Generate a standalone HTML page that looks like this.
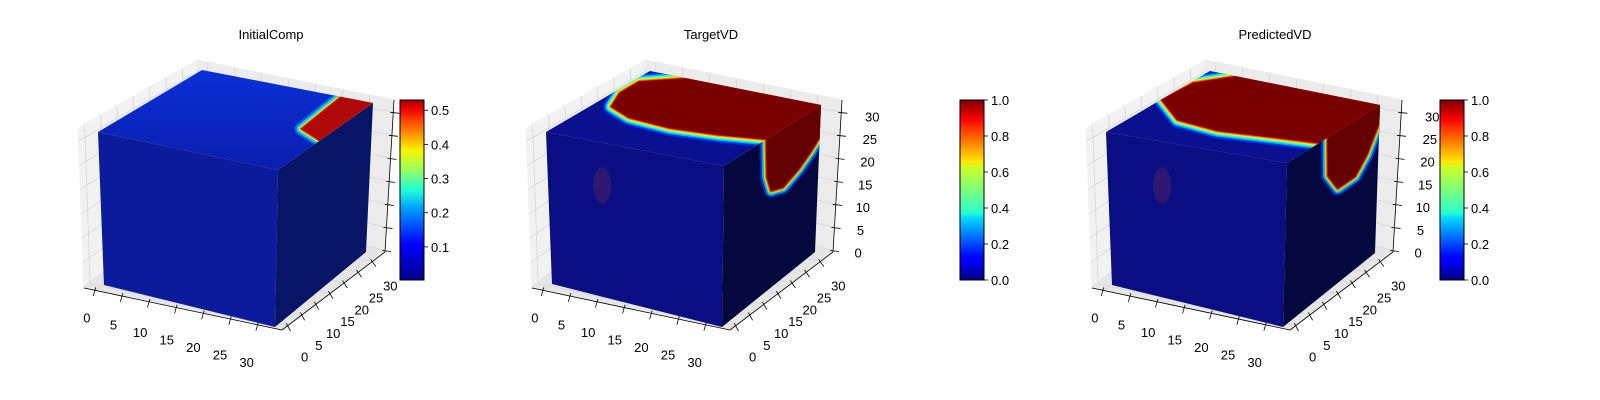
<!DOCTYPE html>
<html><head><meta charset="utf-8"><style>
html,body{margin:0;padding:0;background:#fff;}
svg{display:block;font-family:"Liberation Sans","DejaVu Sans",sans-serif;}
</style></head><body>
<svg id="fig" width="1600" height="400" viewBox="0 0 1600 400" xmlns="http://www.w3.org/2000/svg">
<defs>
<linearGradient id="jet" x1="0" y1="1" x2="0" y2="0">
<stop offset="0" stop-color="#00007f"/><stop offset="0.11" stop-color="#0000ff"/><stop offset="0.125" stop-color="#0000ff"/>
<stop offset="0.34" stop-color="#00d4ff"/><stop offset="0.375" stop-color="#29ffce"/><stop offset="0.5" stop-color="#7dff7a"/>
<stop offset="0.625" stop-color="#ceff29"/><stop offset="0.66" stop-color="#ffe500"/><stop offset="0.875" stop-color="#ff1400"/>
<stop offset="0.89" stop-color="#ff0000"/><stop offset="1" stop-color="#7f0000"/></linearGradient>
<linearGradient id="jetlow" x1="0" y1="1" x2="0" y2="0">
<stop offset="0" stop-color="#00008a"/><stop offset="0.2" stop-color="#0000ff"/><stop offset="0.4" stop-color="#00a0ff"/>
<stop offset="0.5" stop-color="#20ffd8"/><stop offset="0.62" stop-color="#a0ff58"/><stop offset="0.72" stop-color="#f8f500"/>
<stop offset="0.85" stop-color="#ff6a00"/><stop offset="0.95" stop-color="#f00000"/><stop offset="1" stop-color="#a00000"/></linearGradient>
<linearGradient id="top1" x1="0" y1="0" x2="0" y2="1"><stop offset="0" stop-color="#0b2fd6"/><stop offset="1" stop-color="#0a1eae"/></linearGradient>
</defs>
<g id="root"></g>
</svg>
<script>
// ---- data ----
const titles = ["InitialComp", "TargetVD", "PredictedVD"];
const axisTicks = [0, 5, 10, 15, 20, 25, 30];
const cbTicks1 = [0.1, 0.2, 0.3, 0.4, 0.5];
const cbTicks2 = [0.0, 0.2, 0.4, 0.6, 0.8, 1.0];
const cbRange1 = [0.003, 0.53];
const cbRange2 = [0.0, 1.0];
// hot regions (voxel coords) : top face (x, depth), right face (depth, z)
const topHot1 = [[26,32],[27,17],[32,14],[32,32]];
const topHot2 = [[7,32],[1,27],[1,21],[3,15],[8,12],[16,11],[24,12],[32,14],[32,32]];
const topHot3 = [[5,32],[0.5,26],[0,17],[7,10],[15,8.5],[25,10],[32,11],[32,32]];
const sideHot2 = [[14,32],[14.5,24],[16,20.5],[20,19.5],[25,21],[29,23],[32,25],[32,32]];
const sideHot3 = [[14,32],[14.5,24],[18,20],[24,20],[28,23],[31,27],[32,28],[32,32]];

const NS = "http://www.w3.org/2000/svg";
const root = document.getElementById('root');
function mk(tag, attrs, parent){ const e=document.createElementNS(NS,tag); for(const k in attrs) e.setAttribute(k,attrs[k]); (parent||root).appendChild(e); return e; }
function pts(a){ return a.map(p=>p[0].toFixed(1)+","+p[1].toFixed(1)).join(" "); }
function lerp(a,b,t){ return [a[0]+(b[0]-a[0])*t, a[1]+(b[1]-a[1])*t]; }
function bil(P00,P10,P11,P01,a,b){ return lerp(lerp(P00,P10,a), lerp(P01,P11,a), b); }

const cubes = [
 {FTL:[98,132],FTR:[278,170],BTR:[373,103],BTL:[202,70],FBL:[104,285],FBR:[275,327],RBR:[366,252]},
 {FTL:[546,132],FTR:[724,166],BTR:[821,105],BTL:[650,71],FBL:[552,284],FBR:[722,327],RBR:[815,252]},
 {FTL:[1106,132],FTR:[1287,163],BTR:[1380,105],BTL:[1210,71],FBL:[1112,285],FBR:[1283,327],RBR:[1375,253]}
];
const shifts = [-448, 0, 560];
const titleX = [271, 711, 1275];
const cbX = [400, 960, 1440];

function xf(v){ return (v+2)/36.5; }
function zf(v){ return v/33+0.01; }

function panel(i){
  const g = mk('g',{});
  
  
  const s = shifts[i];
  const P = (x,y)=>[x+s,y];
  const A=P(532,288),B=P(526,128),C=P(645,60),D=P(645,205),E=P(842,100),F=P(833,252),G=P(730,330);
  const lp = mk('polygon',{points:pts([A,B,C,D]),fill:'#f2f2f2',stroke:'#f2f2f2'},g);
   
  const bp = mk('polygon',{points:pts([D,C,E,F]),fill:'#ececec',stroke:'#ececec'},g);
   
  const fp = mk('polygon',{points:pts([A,D,F,G]),fill:'#e6e6e6',stroke:'#e6e6e6'},g);
   
  axisTicks.forEach(v=>{
    const t=xf(v), tz=zf(v);
    const z1=lerp(A,B,tz), z2=lerp(D,C,tz), z3=lerp(F,E,tz);
    mk('polyline',{points:pts([z1,z2,z3]),fill:'none',stroke:'#d6d6d6','stroke-width':0.8},g);
    const x1=lerp(A,G,t), x2=lerp(D,F,t), x3=lerp(C,E,t);
    mk('polyline',{points:pts([x1,x2,x3]),fill:'none',stroke:'#d6d6d6','stroke-width':0.8},g);
    const y1=lerp(G,F,t), y2=lerp(A,D,t), y3=lerp(B,C,t);
    mk('polyline',{points:pts([y1,y2,y3]),fill:'none',stroke:'#d6d6d6','stroke-width':0.8},g);
  });
  mk('line',{x1:A[0],y1:A[1],x2:G[0],y2:G[1],stroke:'#000','stroke-width':0.8},g);
  mk('line',{x1:G[0],y1:G[1],x2:F[0],y2:F[1],stroke:'#000','stroke-width':0.8},g);
  mk('line',{x1:F[0],y1:F[1],x2:E[0],y2:E[1],stroke:'#000','stroke-width':0.8},g);
  axisTicks.forEach((v,k)=>{
    const f=k/(axisTicks.length-1);
    let p=lerp(A,G,xf(v)); let off=lerp([-8,28],[-11,38],f);
    let L=Math.hypot(off[0],off[1]); let d=[off[0]/L,off[1]/L];
    mk('line',{x1:p[0]-d[0]*3,y1:p[1]-d[1]*3,x2:p[0]+d[0]*6,y2:p[1]+d[1]*6,stroke:'#000','stroke-width':0.8},g);
    let tx=mk('text',{x:p[0]+off[0],y:p[1]+off[1]+4,'font-size':13,'text-anchor':'middle',fill:'#000'},g);
    tx.textContent=v;  
    p=lerp(G,F,xf(v)); off=lerp([17,32],[18,25],f);
    L=Math.hypot(off[0],off[1]); d=[off[0]/L,off[1]/L];
    mk('line',{x1:p[0]-d[0]*3,y1:p[1]-d[1]*3,x2:p[0]+d[0]*6,y2:p[1]+d[1]*6,stroke:'#000','stroke-width':0.8},g);
    tx=mk('text',{x:p[0]+off[0],y:p[1]+off[1]+4,'font-size':13,'text-anchor':'middle',fill:'#000'},g);
    tx.textContent=v;  
    p=lerp(F,E,zf(v)); off=lerp([25,3],[31,5],f);
    mk('line',{x1:p[0]-3,y1:p[1],x2:p[0]+6,y2:p[1]+1,stroke:'#000','stroke-width':0.8},g);
    if(i>0){
      tx=mk('text',{x:p[0]+off[0],y:p[1]+off[1]+4,'font-size':13,'text-anchor':'middle',fill:'#000'},g);
      tx.textContent=v;  
    }
  });
  const c=cubes[i];
  const topPoly=[c.FTL,c.FTR,c.BTR,c.BTL], rightPoly=[c.FTR,c.BTR,c.RBR,c.FBR], frontPoly=[c.FTL,c.FTR,c.FBR,c.FBL];
  const front=mk('polygon',{points:pts(frontPoly),fill:i==0?'#0b1b9c':'#0a0e82'},g);
   
  const right=mk('polygon',{points:pts(rightPoly),fill:i==0?'#081465':'#05083f'},g);
   
  const top=mk('polygon',{points:pts(topPoly),fill:i==0?'url(#top1)':'#0a1090'},g);
   
  const defs=document.querySelector('defs');
  const cpT=mk('clipPath',{id:'ct'+i},defs); mk('polygon',{points:pts(topPoly)},cpT);
  const cpR=mk('clipPath',{id:'cr'+i},defs); mk('polygon',{points:pts(rightPoly)},cpR);
  const topMap=(u,w)=>bil(c.FTL,c.FTR,c.BTR,c.BTL,u/32,w/32);
  const rightMap=(w,z)=>bil(c.FBR,c.RBR,c.BTR,c.FTR,w/32,z/32);
  function hot(arr,map,clip,name,layers){
    const hg=mk('g',{'clip-path':'url(#'+clip+')'},g);
     
    const pp=pts(arr.map(q=>map(q[0],q[1])));
    layers.forEach(l=>mk('polygon',{points:pp,fill:l[0],stroke:l[0],'stroke-width':l[1],'stroke-linejoin':'round'},hg));
  }
  const band=[['#0030e0',16],['#00b0ff',12],['#30ffd0',9],['#d0ff20',6],['#ff8000',3.5],['#e00000',1.5],['#7a0000',0]];
  if(i==0){
    hot(topHot1,topMap,'ct0','hot-region-top',[['#1060ff',13],['#10d0e0',9],['#d0e830',5],['#e04000',2],['#b00808',0]]);
  } else {
    hot(i==1?topHot2:topHot3,topMap,'ct'+i,'hot-region-top',band);
    hot(i==1?sideHot2:sideHot3,rightMap,'cr'+i,'hot-region-side',[['#0028c0',14],['#00a8d8',10],['#a8e040',6.5],['#e06000',3.5],['#c00000',1.5],['#640000',0]]);
    const sp=lerp(c.FTL,c.FBL,0.35);
    const el=mk('ellipse',{cx:sp[0]+54,cy:sp[1],rx:9,ry:18,fill:'#803050',opacity:0.3},g);
     
  }
  const t=mk('text',{x:titleX[i],y:39,'font-size':13,'text-anchor':'middle',fill:'#000'},g);
  t.textContent=titles[i];  
  const cx=cbX[i], cy0=100, cy1=280, cw=24;
  const ticks=i==0?cbTicks1:cbTicks2, rng=i==0?cbRange1:cbRange2;
  const cb=mk('rect',{x:cx,y:cy0,width:cw,height:cy1-cy0,fill:i==0?'url(#jetlow)':'url(#jet)',stroke:'#000','stroke-width':1},g);
   
  ticks.forEach(v=>{
    const y=cy1-(v-rng[0])/(rng[1]-rng[0])*(cy1-cy0);
    mk('line',{x1:cx+cw,y1:y,x2:cx+cw+4,y2:y,stroke:'#000','stroke-width':0.8},g);
    const lt=mk('text',{x:cx+cw+7,y:y+5,'font-size':13,fill:'#000'},g);
    lt.textContent=v.toFixed(1);  
  });
}
[0,1,2].forEach(panel);
</script>
</body></html>
